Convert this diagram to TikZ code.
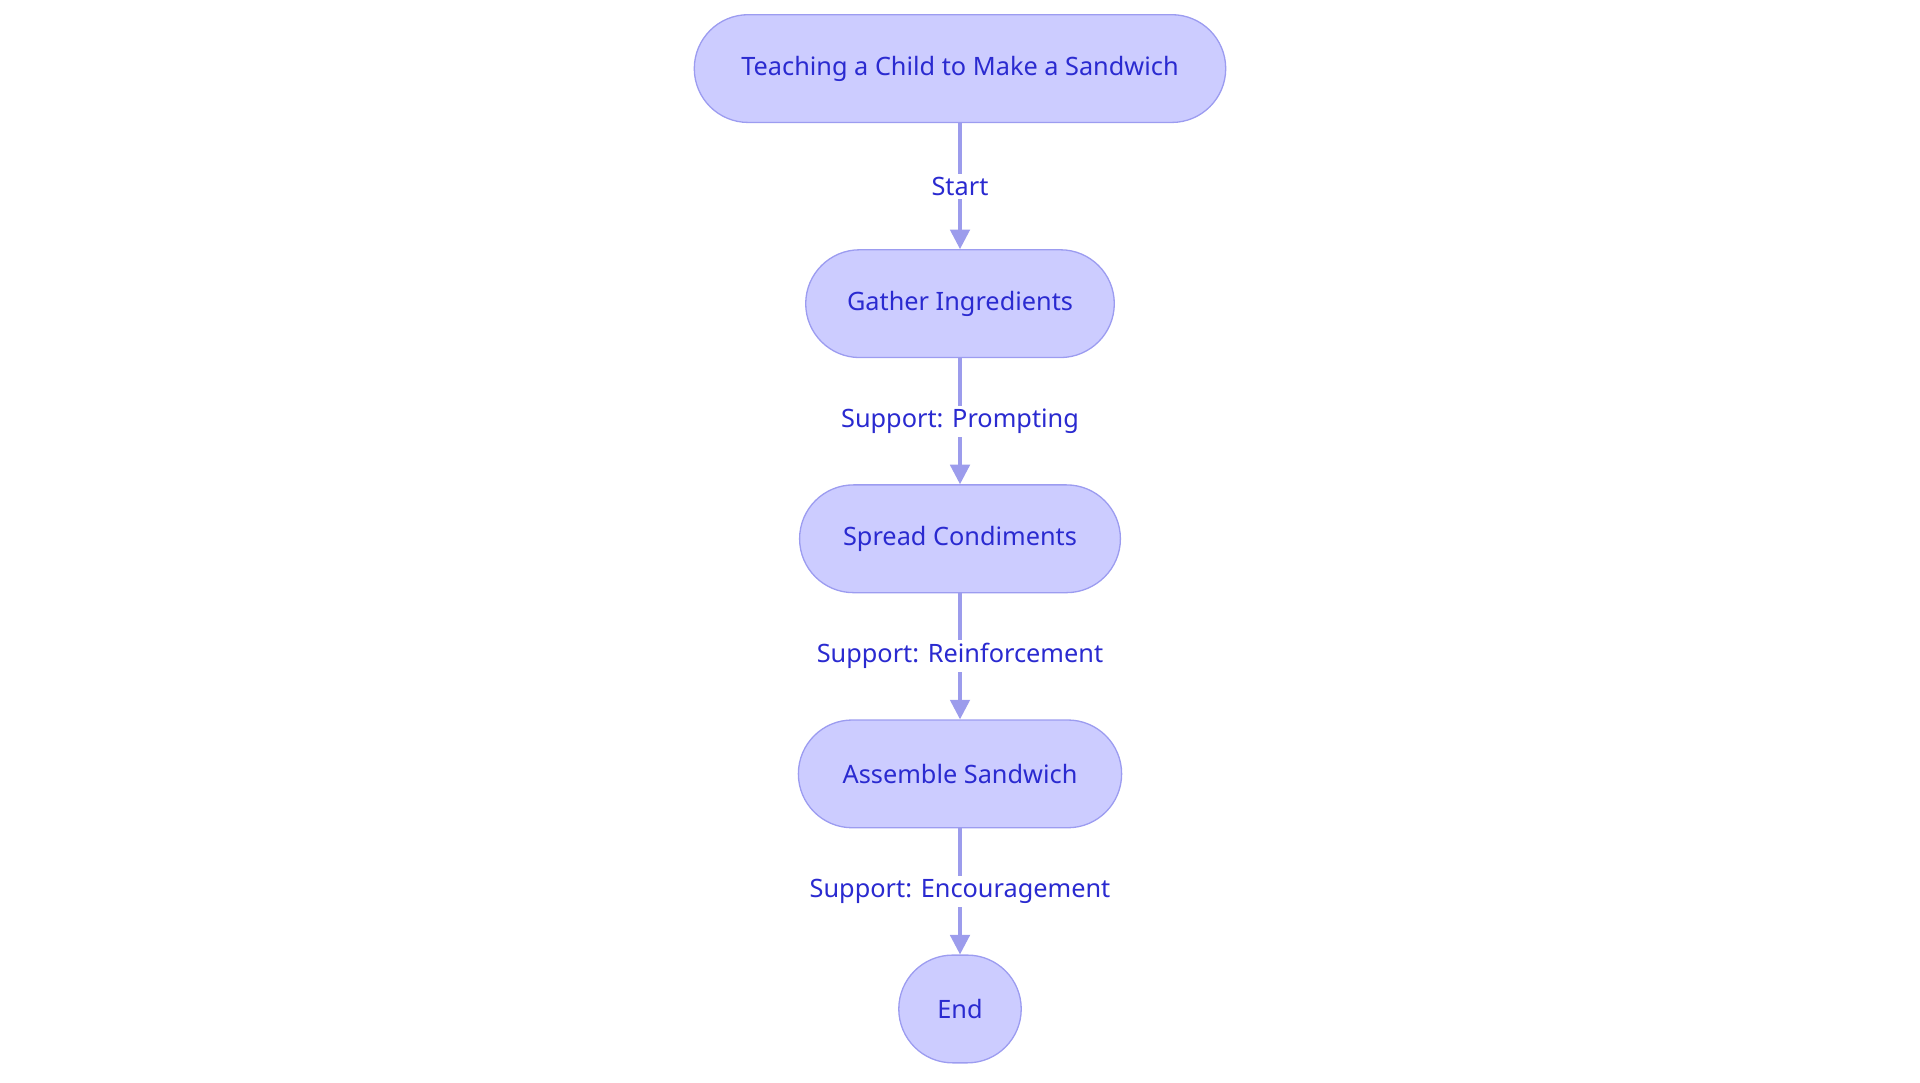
\documentclass[tikz,border=0pt]{standalone}
\usepackage{fontspec}
\setmainfont{Noto Sans}
\usetikzlibrary{arrows.meta}
\definecolor{nfill}{HTML}{CCCCFF}
\definecolor{nline}{HTML}{9C9CF0}
\definecolor{ntext}{HTML}{2A2AD0}
\definecolor{eline}{HTML}{9C9CEC}
\begin{document}
\begin{tikzpicture}[x=0.75pt,y=-0.75pt,
  box/.style={draw=nline,fill=nfill,rounded corners=33pt,line width=0.8pt,
    text=ntext,font=\fontsize{15.5}{18}\selectfont,minimum height=66pt,inner xsep=0pt},
  edge/.style={draw=eline,line width=2pt,-{Triangle[length=12pt,width=12pt]}},
  lab/.style={fill=white,text=ntext,font=\fontsize{15.5}{18}\selectfont,inner sep=2pt}]
\useasboundingbox (0,0) rectangle (1568,884);
\node[box,minimum width=325.5pt] (a) at (784,56) {Teaching a Child to Make a Sandwich};
\node[box,minimum width=189pt] (b) at (784,248) {Gather Ingredients};
\node[box,minimum width=196.5pt] (c) at (784,440) {Spread Condiments};
\node[box,minimum width=198pt] (d) at (784,632) {Assemble Sandwich};
\node[box,minimum width=75pt] (e) at (784,824) {End};
\draw[edge] (a) -- node[lab]{Start} (b);
\draw[edge] (b) -- node[lab]{Support: Prompting} (c);
\draw[edge] (c) -- node[lab]{Support: Reinforcement} (d);
\draw[edge] (d) -- node[lab]{Support: Encouragement} (e);
\end{tikzpicture}
\end{document}
